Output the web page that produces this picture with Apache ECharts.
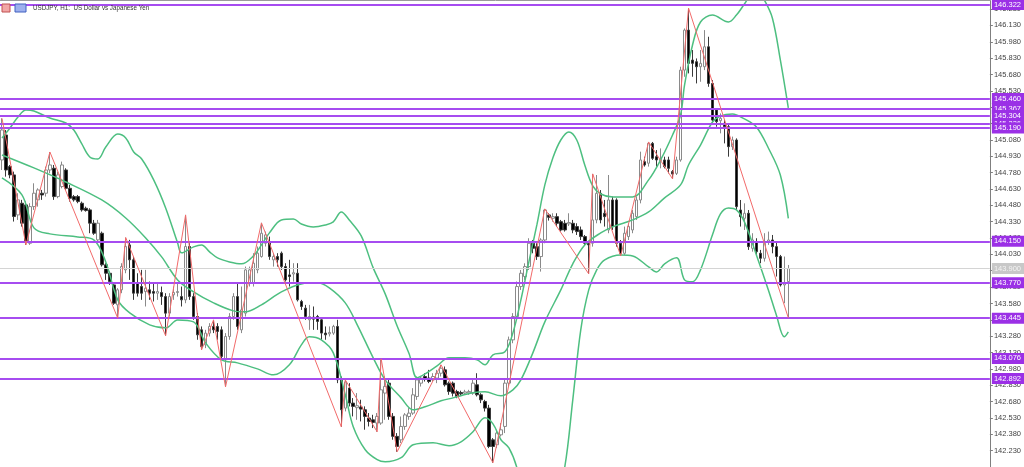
<!DOCTYPE html>
<html><head><meta charset="utf-8">
<script src="https://cdn.jsdelivr.net/npm/echarts@6/dist/echarts.min.js"></script>
<style>html,body{margin:0;padding:0;background:#fff}#c{width:1024px;height:467px}</style>
</head><body><div id="c"></div>
<script>
const titleText = 'USDJPY, H1:  US Dollar vs Japanese Yen';
const tickValues = [142.23,142.38,142.53,142.68,142.83,142.98,143.13,143.28,143.43,143.58,143.73,143.88,144.03,144.18,144.33,144.48,144.63,144.78,144.93,145.08,145.23,145.38,145.53,145.68,145.83,145.98,146.13,146.28];
const levelLines = [146.322,145.460,145.367,145.304,145.226,145.190,144.150,143.770,143.445,143.076,142.892];
const currentPrice = 143.900;
// [open, close, low, high]
const candles = [
[144.896,145.171,144.804,145.278],[145.125,144.804,144.743,145.171],[144.835,144.759,144.728,144.850],[144.759,144.377,144.331,144.789],[144.392,144.530,144.346,144.591],
[144.499,144.316,144.285,144.530],[144.484,144.148,144.117,144.514],[144.132,144.468,144.117,144.499],[144.468,144.591,144.438,144.682],[144.530,144.621,144.468,144.636],
[144.591,144.575,144.530,144.621],[144.591,144.804,144.560,144.835],[144.804,144.850,144.774,144.969],[144.820,144.560,144.530,144.850],[144.560,144.759,144.545,144.789],
[144.652,144.850,144.636,144.881],[144.804,144.636,144.621,144.820],[144.636,144.545,144.514,144.667],[144.560,144.530,144.514,144.575],[144.560,144.514,144.499,144.575],
[144.499,144.438,144.422,144.514],[144.453,144.432,144.422,144.468],[144.438,144.316,144.224,144.453],[144.316,144.224,144.209,144.346],[144.163,144.316,144.148,144.346],
[144.224,143.934,143.918,144.239],[143.934,143.857,143.796,143.949],[143.857,143.781,143.750,143.872],[143.750,143.582,143.567,143.766],[143.567,143.705,143.445,143.720],
[143.705,143.918,143.674,143.949],[143.888,144.102,143.857,144.184],[144.117,143.980,143.796,144.163],[143.980,143.674,143.613,144.010],[143.766,143.674,143.643,143.857],
[143.735,143.674,143.613,143.888],[143.689,143.720,143.552,143.888],[143.705,143.674,143.613,143.781],[143.689,143.674,143.598,143.766],[143.674,143.689,143.613,143.766],
[143.680,143.643,143.567,143.735],[143.643,143.491,143.283,143.674],[143.491,143.643,143.460,143.674],[143.659,143.680,143.613,143.735],[143.680,143.689,143.643,143.766],
[143.643,143.613,143.552,143.735],[143.613,144.102,143.582,144.392],[144.102,143.643,143.613,144.132],[143.643,143.460,143.430,143.674],[143.460,143.292,143.247,143.491],
[143.338,143.185,143.154,143.369],[143.201,143.308,143.170,143.338],[143.308,143.369,143.277,143.399],[143.369,143.338,143.308,143.429],[143.369,143.323,143.247,143.399],
[143.338,143.094,143.063,143.369],[143.063,143.277,142.815,143.308],[143.277,143.460,143.247,143.491],[143.460,143.643,143.430,143.674],[143.643,143.369,143.338,143.766],
[143.338,143.521,143.308,143.735],[143.491,143.888,143.460,143.918],[143.766,143.888,143.735,143.918],[143.766,143.949,143.735,144.041],[143.888,144.041,143.857,144.102],
[144.010,144.224,144.000,144.319],[144.132,144.209,144.102,144.239],[144.148,144.010,143.980,144.193],[143.980,144.010,143.918,144.041],[144.010,143.980,143.918,144.041],
[144.041,143.918,143.888,144.056],[143.918,143.796,143.781,143.949],[143.842,143.827,143.735,143.980],[143.850,143.862,143.780,143.949],[143.857,143.613,143.598,143.949],
[143.598,143.552,143.521,143.613],[143.537,143.460,143.430,143.567],[143.430,143.460,143.338,143.567],[143.454,143.436,143.338,143.552],[143.460,143.415,143.338,143.475],
[143.430,143.308,143.247,143.445],[143.308,143.292,143.247,143.369],[143.301,143.314,143.277,143.369],[143.308,143.369,143.292,143.384],[143.369,142.880,142.849,143.430],
[142.880,142.605,142.449,142.910],[142.620,142.860,142.590,142.879],[142.804,142.666,142.636,142.849],[142.666,142.636,142.544,142.712],[142.624,142.642,142.513,142.758],
[142.630,142.611,142.498,142.697],[142.605,142.544,142.422,142.636],[142.529,142.498,142.452,142.575],[142.513,142.489,142.437,142.559],[142.483,142.544,142.403,142.575],
[142.483,142.788,142.467,143.072],[142.758,142.819,142.513,142.911],[142.849,142.544,142.513,142.880],[142.544,142.361,142.330,142.575],[142.361,142.269,142.220,142.391],
[142.329,142.452,142.300,142.543],[142.452,142.558,142.421,142.574],[142.543,142.574,142.513,142.620],[142.574,142.742,142.558,142.803],[142.727,142.879,142.696,142.910],
[142.849,142.895,142.818,142.910],[142.910,142.886,142.864,142.940],[142.895,142.864,142.849,142.971],[142.879,142.910,142.864,142.940],[142.895,142.940,142.849,142.971],
[142.940,142.986,142.910,143.017],[142.971,142.834,142.818,143.002],[142.849,142.772,142.742,142.864],[142.849,142.757,142.727,142.864],[142.772,142.727,142.711,142.788],
[142.763,142.751,142.735,142.780],[142.757,142.769,142.742,142.788],[142.760,142.772,142.742,142.788],[142.757,142.849,142.742,142.879],[142.834,142.742,142.727,142.940],
[142.742,142.696,142.666,142.757],[142.681,142.620,142.589,142.696],[142.620,142.268,142.253,142.650],[142.329,142.268,142.119,142.345],[142.284,142.391,142.253,142.421],
[142.375,142.421,142.360,142.482],[142.452,142.849,142.391,142.879],[142.849,143.246,142.818,143.276],[143.246,143.460,143.215,143.491],[143.460,143.735,143.430,143.781],
[143.735,143.857,143.704,143.887],[143.827,143.918,143.796,143.948],[143.918,144.132,143.887,144.178],[144.132,144.086,144.040,144.162],[144.101,144.010,143.979,144.132],
[144.010,144.162,143.872,144.178],[144.162,144.437,144.132,144.447],[144.392,144.370,144.340,144.407],[144.361,144.376,144.330,144.407],[144.376,144.315,144.285,144.407],
[144.330,144.254,144.239,144.346],[144.315,144.254,144.239,144.346],[144.310,144.322,144.290,144.407],[144.315,144.254,144.224,144.346],[144.285,144.239,144.208,144.315],
[144.254,144.193,144.162,144.285],[144.193,144.132,144.117,144.208],[144.132,144.117,143.851,144.147],[144.132,144.346,144.101,144.768],[144.346,144.590,144.315,144.758],
[144.590,144.346,144.315,144.620],[144.407,144.376,144.285,144.529],[144.254,144.529,144.224,144.758],[144.529,144.285,144.254,144.560],[144.529,144.132,144.101,144.544],
[144.132,144.040,144.016,144.162],[144.040,144.224,144.025,144.285],[144.193,144.285,144.162,144.315],[144.254,144.407,144.224,144.437],[144.376,144.529,144.346,144.560],
[144.529,144.896,144.498,144.972],[144.880,144.850,144.835,144.926],[144.866,145.048,144.835,145.061],[145.048,144.911,144.896,145.061],[144.926,144.896,144.835,144.987],
[144.890,144.900,144.819,145.002],[144.896,144.835,144.819,144.926],[144.896,144.819,144.773,144.926],[144.789,144.767,144.722,144.804],[144.773,144.896,144.758,144.926],
[144.896,145.720,144.880,145.751],[145.720,146.087,145.659,146.102],[146.087,145.782,145.690,146.289],[145.812,145.782,145.659,145.904],[145.797,145.751,145.598,145.827],
[145.751,145.782,145.613,145.904],[145.751,145.934,145.720,146.087],[145.934,145.598,145.567,146.026],[145.598,145.262,145.232,145.629],[145.354,145.247,145.201,145.369],
[145.256,145.278,145.140,145.323],[145.232,145.201,145.048,145.262],[145.201,145.018,144.926,145.232],[145.018,145.079,144.987,145.110],[145.079,144.468,144.437,145.094],
[144.437,144.376,144.285,144.529],[144.361,144.407,144.254,144.498],[144.407,144.101,144.071,144.437],[144.086,144.162,144.055,144.224],[144.147,144.055,144.025,144.178],
[144.040,143.994,143.949,144.071],[143.994,144.132,143.964,144.224],[144.147,144.162,144.117,144.239],[144.162,144.101,144.040,144.208],[144.101,144.010,143.827,144.147],
[144.010,143.750,143.735,144.025],[143.750,143.765,143.582,144.010],[143.780,143.900,143.448,143.933]
];
// Bollinger bands, read at sampled bars: [barIndex, price]
const bbUpper = [[0,145.098],[2,145.189],[4,145.290],[6,145.354],[8,145.345],[12,145.281],[16,145.235],[18,145.171],[20,145.043],[22,144.923],[24,144.905],[26,145.015],[29,145.134],[31,145.098],[33,144.969],[35,144.905],[38,144.713],[41,144.456],[44,144.135],[45,144.044],[48,144.099],[50,144.117],[52,144.053],[54,143.998],[57,143.961],[60,143.943],[63,144.016],[65,144.117],[67,144.227],[70,144.346],[73,144.355],[75,144.309],[78,144.282],[81,144.300],[83,144.328],[85,144.419],[87,144.346],[90,144.199],[93,143.906],[96,143.668],[99,143.374],[102,143.118],[104,142.898],[106,142.934],[109,143.008],[112,143.081],[116,143.081],[119,143.063],[121,143.017],[123,143.109],[126,143.136],[128,143.310],[130,143.613],[132,143.961],[134,144.300],[136,144.667],[138,144.914],[140,145.079],[142,145.153],[144,145.079],[146,144.850],[148,144.658],[150,144.584],[153,144.557],[158,144.557],[162,144.713],[165,144.896],[168,145.125],[170,145.308],[171,145.583],[173,145.950],[175,146.161],[178,146.225],[182,146.161],[184,146.225],[186,146.326],[189,146.472],[191,146.362],[193,146.198],[195,145.813],[197,145.373]];
const bbMiddle = [[0,144.942],[8,144.823],[16,144.694],[25,144.529],[31,144.364],[36,144.181],[40,144.007],[44,143.796],[48,143.686],[53,143.585],[58,143.512],[61,143.503],[65,143.567],[70,143.686],[75,143.759],[79,143.769],[82,143.723],[86,143.585],[89,143.384],[93,143.081],[96,142.879],[100,142.714],[103,142.604],[106,142.632],[110,142.687],[113,142.714],[118,142.760],[121,142.769],[125,142.733],[128,142.788],[130,142.879],[133,143.127],[136,143.411],[140,143.704],[143,143.943],[146,144.117],[150,144.227],[153,144.282],[158,144.346],[162,144.419],[166,144.548],[170,144.667],[172,144.850],[175,145.033],[178,145.244],[180,145.299],[183,145.318],[186,145.272],[189,145.198],[192,145.006],[195,144.758],[197,144.360]];
const bbLower = [[0,144.731],[5,144.575],[8,144.273],[12,144.218],[19,144.190],[23,144.163],[26,143.961],[29,143.613],[32,143.494],[37,143.384],[41,143.356],[44,143.429],[48,143.411],[51,143.219],[55,143.063],[59,143.035],[64,142.980],[68,142.925],[72,143.017],[75,143.200],[77,143.274],[80,143.246],[83,143.127],[86,142.742],[88,142.449],[91,142.238],[94,142.147],[96,142.128],[100,142.165],[103,142.284],[108,142.302],[112,142.275],[115,142.311],[118,142.403],[121,142.531],[123,142.476],[125,142.330],[127,142.256],[129,142.073],[132,141.596],[137,141.413],[141,142.082],[143,142.696],[145,143.338],[147,143.704],[149,143.888],[151,143.980],[155,144.025],[158,144.016],[162,143.915],[164,143.869],[166,143.943],[169,143.998],[171,143.796],[173,143.778],[175,143.888],[178,144.209],[180,144.401],[182,144.456],[184,144.438],[186,144.328],[189,144.025],[192,143.704],[194,143.475],[196,143.274],[197,143.320]];
// ZigZag swing points: [barIndex, price]
const zigzag = [[0,145.278],[6,144.117],[12,144.969],[29,143.445],[31,144.184],[41,143.283],[46,144.392],[50,143.154],[53,143.429],[56,142.815],[65,144.319],[85,142.449],[86,142.879],[94,142.403],[95,143.072],[99,142.220],[110,143.017],[123,142.119],[136,144.447],[147,143.851],[148,144.768],[155,144.016],[162,145.061],[168,144.722],[172,146.289],[197,143.448]];
const barSlots = 248;
const categories = Array.from({length: barSlots}, (_, i) => String(i));

const FONT = '"Liberation Sans", Arial, sans-serif';
const chart = echarts.init(document.getElementById('c'), null, {renderer: 'canvas'});
const bandStyle = {type: 'line', smooth: 0.35, symbol: 'none', silent: true, z: 4,
  lineStyle: {color: '#4dbf80', width: 1.5}};
const lvlLabel = (bg, fg) => ({show: true, position: 'end', distance: 2, formatter: p => Number(p.value).toFixed(3),
  backgroundColor: bg, color: fg, fontSize: 7.5, fontFamily: FONT, padding: [2, 3, 1, 2], lineHeight: 8});
chart.setOption({
  animation: false,
  backgroundColor: '#ffffff',
  grid: {left: -1, right: 33, top: 0, bottom: 0},
  xAxis: {type: 'category', data: categories, boundaryGap: true, show: false},
  yAxis: {type: 'value', position: 'right', min: 142.08, max: 146.363,
    axisLine: {show: true, lineStyle: {color: '#7f7f7f', width: 1}},
    axisTick: {show: true, length: 3, customValues: tickValues, lineStyle: {color: '#7f7f7f'}},
    axisLabel: {show: true, customValues: tickValues, margin: 4, fontSize: 7.5, fontFamily: FONT, color: '#444444',
      formatter: v => Number(v).toFixed(3)},
    splitLine: {show: false}},
  graphic: [
    {type: 'line', shape: {x1: 0, y1: 0.5, x2: 991, y2: 0.5}, style: {stroke: '#9a9a9a', lineWidth: 1}, z: 10},
    {type: 'rect', shape: {x: 2, y: 4, width: 8, height: 8}, style: {fill: '#f2a6a6', stroke: '#c05050', lineWidth: 1}, z: 10},
    {type: 'rect', shape: {x: 15, y: 4, width: 11, height: 8}, style: {fill: '#9db0ee', stroke: '#4060c0', lineWidth: 1}, z: 10},
    {type: 'text', x: 33, y: 4, scaleX: 0.78, originX: 0, style: {text: titleText, fontSize: 8, fontFamily: FONT, fill: '#333333'}, z: 10}
  ],
  series: [
    {type: 'candlestick', data: candles, barWidth: 3, z: 2, silent: true,
      itemStyle: {color: '#ffffff', borderColor: '#8a8a8a', color0: '#000000', borderColor0: '#3a3a3a', borderWidth: 1},
      markLine: {symbol: 'none', silent: true, animation: false, precision: 3, z: 5,
        data: [{yAxis: currentPrice, lineStyle: {color: '#d4d4d4', width: 1, type: 'solid'}, label: lvlLabel('#c8c8c8', '#f4f4f4')}]
          .concat(levelLines.map(v => ({yAxis: v, lineStyle: {color: '#a64cf0', width: 2, type: 'solid'}, label: lvlLabel('#9b30e6', '#ffffff')})))
      }},
    Object.assign({name: 'BB upper', data: bbUpper}, bandStyle),
    Object.assign({name: 'BB middle', data: bbMiddle}, bandStyle),
    Object.assign({name: 'BB lower', data: bbLower}, bandStyle),
    {name: 'ZigZag', type: 'line', data: zigzag, symbol: 'none', silent: true, z: 6,
      lineStyle: {color: '#f26a6a', width: 1}}
  ]
});
</script></body></html>
